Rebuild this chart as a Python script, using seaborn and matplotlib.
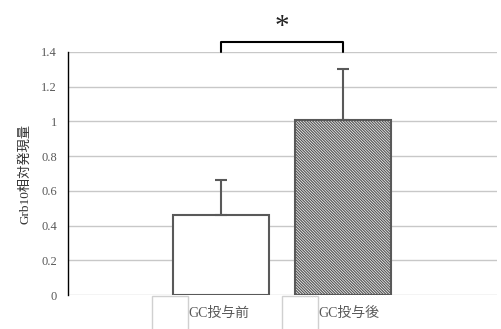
import matplotlib
matplotlib.use("Agg")
import matplotlib.pyplot as plt
from matplotlib.patches import Patch
import seaborn as sns
import pandas as pd

# Expression data (mean and SD, relative units)
groups = ["GC投与前", "GC投与後"]
means = [0.46, 1.01]
sds = [0.20, 0.29]
yticks = [0, 0.2, 0.4, 0.6, 0.8, 1.0, 1.2, 1.4]
ytick_labels = ["0", "0.2", "0.4", "0.6", "0.8", "1", "1.2", "1.4"]
ylabel = "Grb10相対発現量"
sig_mark = "*"

sns.set_style("white")
plt.rcParams["font.family"] = ["Liberation Serif", "Noto Sans CJK JP"]
plt.rcParams["hatch.linewidth"] = 0.9

edge = "#595959"
grid_c = "#c8c8c8"

fig = plt.figure(figsize=(5.02, 3.29), dpi=100)
ax = fig.add_axes([68 / 502, 1 - 295 / 329, (497 - 68) / 502, (295 - 52) / 329])

df = pd.DataFrame({"group": groups, "mean": means})
sns.barplot(data=df, x="group", y="mean", ax=ax, width=0.787,
            color="white", edgecolor=edge, linewidth=1.5, errorbar=None,
            zorder=3)
bars = ax.patches
bars[1].set_hatch("\\" * 12)

# upper-only error bars
ax.errorbar(range(len(groups)), means, yerr=[[0] * len(sds), sds], fmt="none",
            ecolor=edge, elinewidth=1.5, capsize=4.5, capthick=1.5, zorder=4)

ax.set_ylim(0, 1.4)
ax.set_xlim(-1.254, 2.258)
ax.set_yticks(yticks)
ax.set_yticklabels(ytick_labels)
ax.tick_params(axis="y", length=0, pad=8, labelsize=9, labelcolor=edge)
ax.tick_params(axis="x", length=0, labelbottom=False)
ax.set_xlabel("")
ax.set_ylabel(ylabel, fontsize=9.5, color="#333333", labelpad=7)

for y in yticks:
    ax.axhline(y, color=grid_c, lw=1.0, zorder=1)

for s in ["top", "right", "bottom"]:
    ax.spines[s].set_visible(False)
ax.spines["left"].set_color("black")
ax.spines["left"].set_linewidth(1.0)
ax.spines["left"].set_zorder(5)

# significance bracket
ax.plot([0, 0, 1, 1], [1.4, 1.457, 1.457, 1.4], color="black", lw=1.5,
        clip_on=False, zorder=6)
ax.text(0.5, 1.545, sig_mark, ha="center", va="center", fontsize=21,
        color="#222222", clip_on=False)

# legend below the plot
handles = [Patch(facecolor="white", edgecolor="#d0d0d0", linewidth=1.0)
           for _ in groups]
leg = fig.legend(handles, groups, loc="upper left", ncol=2,
                 bbox_to_anchor=(152 / 502, 1 - 296 / 329), frameon=False,
                 borderpad=0, borderaxespad=0, handlelength=2.6,
                 handleheight=3.4, handletextpad=0.05, columnspacing=2.3,
                 prop={"size": 10})
for t in leg.get_texts():
    t.set_color(edge)

fig.savefig("out.png", dpi=100)
